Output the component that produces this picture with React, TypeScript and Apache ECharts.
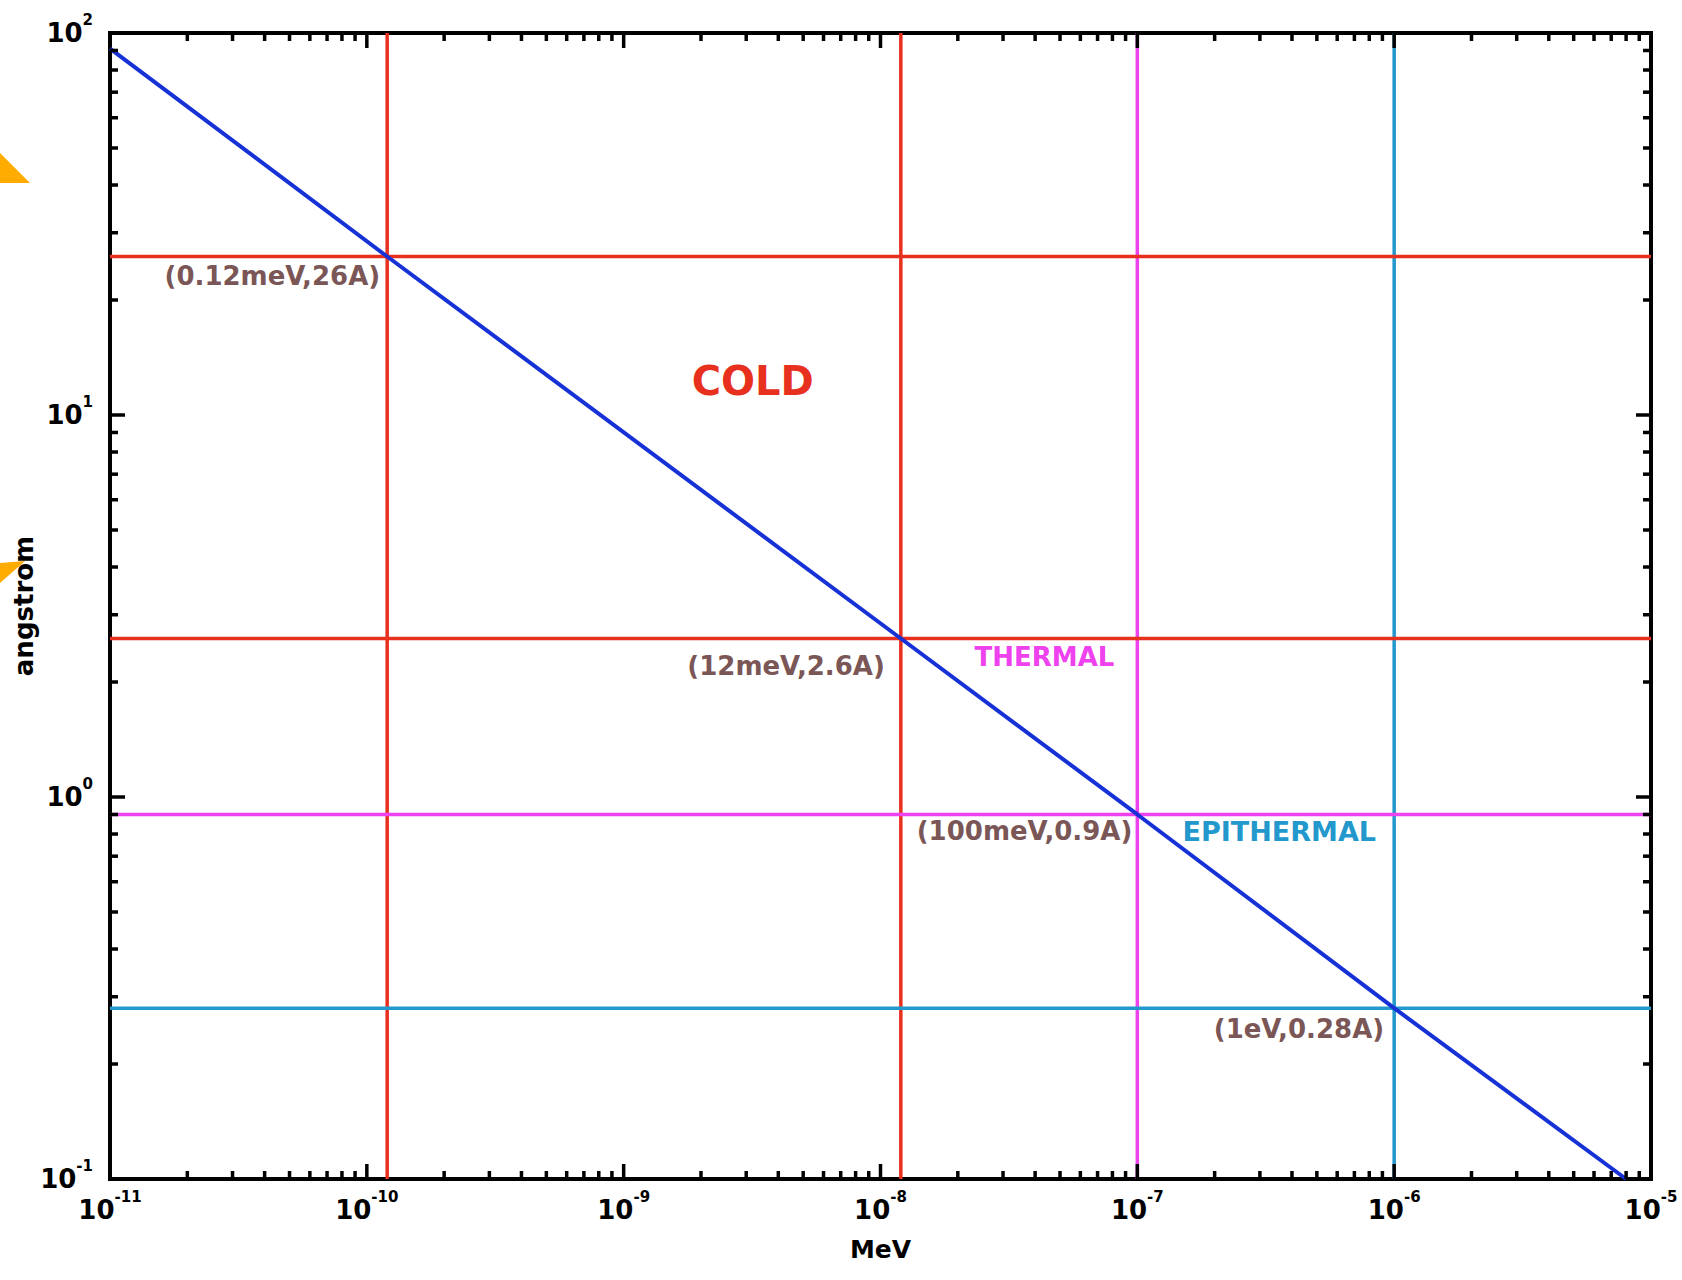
import React, { useEffect, useRef } from "react";
import * as echarts from "echarts";

// ---- axis ranges and ticks ----
const xRange = [1e-11, 1e-5];
const yRange = [0.1, 100];
const xDecades = [1e-11, 1e-10, 1e-9, 1e-8, 1e-7, 1e-6];
const yDecades = [0.1, 1, 10];
const xMajorTicks = [1e-10, 1e-9, 1e-8, 1e-7, 1e-6];
const yMajorTicks = [1, 10];
const minorMultipliers = [2, 3, 4, 5, 6, 7, 8, 9];

// ---- neutron energy (MeV) vs wavelength (angstrom) ----
const curveEnergy = [1e-11, 1.2e-10, 1.2e-8, 1e-7, 1e-6, 8e-6];
const curveWavelength = [91, 26, 2.6, 0.9, 0.28, 0.1];

// ---- boundary lines ----
const vLineEnergy = [1.2e-10, 1.2e-8, 1e-7, 1e-6];
const hLineWavelength = [26, 2.6, 0.9, 0.28];

// ---- annotations ----
const pointLabels = ["(0.12meV,26A)", "(12meV,2.6A)", "(100meV,0.9A)", "(1eV,0.28A)"];
const pointLabelEnergy = [1.2e-10, 1.2e-8, 1e-7, 1e-6];
const pointLabelWavelength = [26, 2.6, 0.9, 0.28];

const regionLabels = ["COLD", "THERMAL", "EPITHERMAL"];
const regionLabelEnergy = [3.18e-9, 4.35e-8, 3.57e-7];
const regionLabelWavelength = [12.3, 2.32, 0.81];

// ---- styles ----
const FONT = "DejaVu Sans";
const RED = "#e8301e";
const MAGENTA = "#ee42ee";
const CYAN = "#2298cc";
const BLUE = "#1631d6";
const BROWN = "#7b5656";
const ORANGE = "#ffab00";
const vLineColors = [RED, RED, MAGENTA, CYAN];
const hLineColors = [RED, RED, MAGENTA, CYAN];
const pointLabelOffsets = [
  [-6, 21],
  [-15, 29],
  [-4, 18],
  [-9, 22],
];
const regionLabelColors = [RED, MAGENTA, CYAN];
const regionLabelSizes = [40, 26, 27];

const MAJOR_LEN = 15;
const MINOR_LEN = 8;

function expLabel(v: number) {
  return `{b|10}{e|${Math.round(Math.log10(v))}}`;
}

const labelRich = {
  b: { fontSize: 26, fontWeight: "bold", fontFamily: FONT, color: "#000", lineHeight: 42, verticalAlign: "middle" },
  e: { fontSize: 15, fontWeight: "bold", fontFamily: FONT, color: "#000", lineHeight: 16, verticalAlign: "top" },
};

export default function App() {
  const ref = useRef<HTMLDivElement>(null);

  useEffect(() => {
    const chart = echarts.init(ref.current!, null, { renderer: "svg" });

    const xMinor = xDecades.flatMap((d) => minorMultipliers.map((m) => m * d));
    const yMinor = yDecades.flatMap((d) => minorMultipliers.map((m) => m * d));
    const tickData: number[][] = [];
    xMajorTicks.forEach((v) => tickData.push([v, 1, 0, MAJOR_LEN]));
    xMinor.forEach((v) => tickData.push([v, 1, 0, MINOR_LEN]));
    yMajorTicks.forEach((v) => tickData.push([1e-8, v, 1, MAJOR_LEN]));
    yMinor.forEach((v) => tickData.push([1e-8, v, 1, MINOR_LEN]));

    const series: any[] = [];

    vLineEnergy.forEach((v, i) => {
      series.push({
        type: "line",
        data: [
          [v, yRange[0]],
          [v, yRange[1]],
        ],
        showSymbol: false,
        symbol: "none",
        silent: true,
        z: 2,
        lineStyle: { color: vLineColors[i], width: 3.5 },
      });
    });
    hLineWavelength.forEach((v, i) => {
      series.push({
        type: "line",
        data: [
          [xRange[0], v],
          [xRange[1], v],
        ],
        showSymbol: false,
        symbol: "none",
        silent: true,
        z: 2,
        lineStyle: { color: hLineColors[i], width: 3.5 },
      });
    });

    series.push({
      type: "line",
      data: curveEnergy.map((e, i) => [e, curveWavelength[i]]),
      showSymbol: false,
      symbol: "none",
      silent: true,
      z: 4,
      lineStyle: { color: BLUE, width: 4 },
    });

    series.push({
      type: "custom",
      silent: true,
      z: 5,
      data: tickData,
      renderItem: (params: any, api: any) => {
        const cs = params.coordSys;
        const kind = api.value(2);
        const len = api.value(3);
        const p = api.coord([api.value(0), api.value(1)]);
        const style = { stroke: "#000", lineWidth: 3.5 };
        if (kind === 0) {
          const x = p[0];
          return {
            type: "group",
            children: [
              { type: "line", shape: { x1: x, y1: cs.y + cs.height, x2: x, y2: cs.y + cs.height - len }, style },
              { type: "line", shape: { x1: x, y1: cs.y, x2: x, y2: cs.y + len }, style },
            ],
          };
        }
        const y = p[1];
        return {
          type: "group",
          children: [
            { type: "line", shape: { x1: cs.x, y1: y, x2: cs.x + len, y2: y }, style },
            { type: "line", shape: { x1: cs.x + cs.width, y1: y, x2: cs.x + cs.width - len, y2: y }, style },
          ],
        };
      },
    });

    const labelBase = {
      show: true,
      fontWeight: "bold",
      fontFamily: FONT,
      opacity: 1,
      textBorderWidth: 0,
      textBorderColor: "transparent",
    };

    series.push({
      type: "scatter",
      silent: true,
      z: 6,
      symbolSize: 2,
      itemStyle: { color: "#fff", opacity: 0 },
      data: pointLabels.map((t, i) => ({
        value: [pointLabelEnergy[i], pointLabelWavelength[i]],
        label: {
          ...labelBase,
          formatter: t,
          position: pointLabelOffsets[i],
          align: "right",
          verticalAlign: "middle",
          color: BROWN,
          fontSize: 26,
        },
      })),
    });

    series.push({
      type: "scatter",
      silent: true,
      z: 6,
      symbolSize: 2,
      itemStyle: { color: "#fff", opacity: 0 },
      data: regionLabels.map((t, i) => ({
        value: [regionLabelEnergy[i], regionLabelWavelength[i]],
        label: {
          ...labelBase,
          formatter: t,
          position: [1, 1],
          align: "center",
          verticalAlign: "middle",
          color: regionLabelColors[i],
          fontSize: regionLabelSizes[i],
        },
      })),
    });

    const option: any = {
      animation: false,
      backgroundColor: "#fff",
      textStyle: { fontFamily: FONT },
      grid: {
        left: 110,
        right: 31,
        top: 33,
        bottom: 101,
        show: true,
        borderColor: "#000",
        borderWidth: 4,
        containLabel: false,
        outerBoundsMode: "none",
      },
      xAxis: {
        type: "log",
        logBase: 10,
        min: xRange[0],
        max: xRange[1],
        splitNumber: 6,
        axisLine: { show: false },
        axisTick: { show: false },
        splitLine: { show: false },
        minorTick: { show: false },
        axisLabel: {
          formatter: expLabel,
          rich: labelRich,
          margin: 10,
          showMinLabel: true,
          showMaxLabel: true,
        },
        name: "MeV",
        nameLocation: "middle",
        nameGap: 58,
        nameMoveOverlap: false,
        nameTextStyle: { fontSize: 25, fontWeight: "bold", color: "#000", fontFamily: FONT },
      },
      yAxis: {
        type: "log",
        logBase: 10,
        min: yRange[0],
        max: yRange[1],
        splitNumber: 3,
        axisLine: { show: false },
        axisTick: { show: false },
        splitLine: { show: false },
        minorTick: { show: false },
        axisLabel: {
          formatter: expLabel,
          rich: labelRich,
          margin: 17,
          showMinLabel: true,
          showMaxLabel: true,
        },
        name: "angstrom",
        nameLocation: "middle",
        nameGap: 73,
        nameMoveOverlap: false,
        nameTextStyle: { fontSize: 26, fontWeight: "bold", color: "#000", fontFamily: FONT },
      },
      graphic: [
        {
          type: "polygon",
          silent: true,
          shape: { points: [[0, 153], [30, 183], [0, 183]] },
          style: { fill: ORANGE },
        },
        {
          type: "polygon",
          silent: true,
          shape: { points: [[0, 563], [25, 561], [0, 583]] },
          style: { fill: ORANGE },
        },
      ],
      series,
    };

    chart.setOption(option);
    return () => chart.dispose();
  }, []);

  return (
    <div
      ref={ref}
      style={{ position: "absolute", left: 0, top: 0, width: 1682, height: 1280, background: "#fff" }}
    />
  );
}
